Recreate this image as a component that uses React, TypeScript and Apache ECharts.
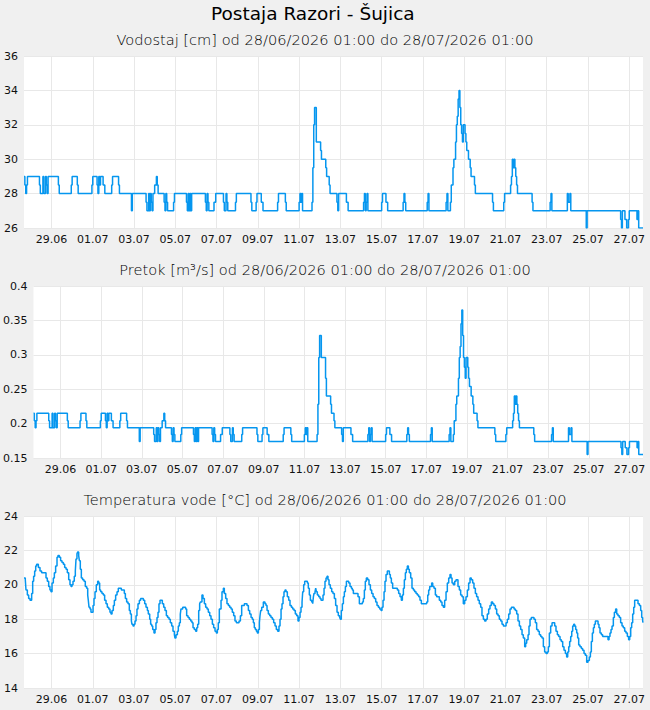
import React, { useEffect, useRef } from "react";
import * as echarts from "echarts";

const FONT = "DejaVu Sans";
const LINE_COLOR = "#0596ef";
const GRID_COLOR = "#e8e8e8";

// Hours since the start of the window; the axis spans 720 h (30 days).
const tickHours = [32, 80, 128, 176, 224, 272, 320, 368, 416, 464, 512, 560, 608, 656, 704];
const tickLabels = [
  "29.06", "01.07", "03.07", "05.07", "07.07", "09.07", "11.07", "13.07",
  "15.07", "17.07", "19.07", "21.07", "23.07", "25.07", "27.07",
];

const mainTitle = "Postaja Razori - Šujica";
const levelTitle = "Vodostaj [cm] od 28/06/2026 01:00 do 28/07/2026 01:00";
const flowTitle = "Pretok [m³/s] od 28/06/2026 01:00 do 28/07/2026 01:00";
const tempTitle = "Temperatura vode [°C] od 28/06/2026 01:00 do 28/07/2026 01:00";

// Hours at which the stage (and hence the discharge) changes value.
const stepHours = [
  0, 1, 2, 3, 4, 18, 19, 22, 23, 25, 26, 27, 28, 40, 41, 55, 56, 62, 63, 79, 80,
  85, 86, 87, 88, 89, 92, 94, 102, 103, 110, 111, 125, 126,
  142, 143, 145, 146, 147, 148, 149, 150, 152, 154, 155, 156,
  163, 164, 165, 166, 167, 174, 175, 189, 190, 191, 192, 193, 194, 195,
  211, 212, 213, 214, 215, 221, 223, 232, 233, 235, 236, 237, 246, 247,
  264, 265, 270, 271, 276, 278, 295, 296, 304, 305, 320, 321, 322, 323, 324,
  335, 336, 337, 338, 340, 345, 346, 351, 352, 355, 356, 364, 365, 366, 375, 377,
  395, 396, 397, 398, 399, 400, 416, 417, 421, 423, 441, 442, 443, 444,
  469, 470, 471, 491, 492, 493,
  496, 497, 499, 500, 502, 503, 504, 505, 506, 507, 508, 509, 510, 511, 513, 514,
  515, 517, 519, 520, 524, 525, 545, 546, 558, 559,
  566, 567, 568, 569, 570, 571, 572, 573, 574, 591, 592, 612, 613, 614,
  632, 633, 635, 636, 654, 655, 694, 695, 696, 699, 701, 703, 704, 713, 714, 715, 720,
];

// Vodostaj [cm]
const levelValues = [
  29, 28.5, 28, 28.5, 29, 28.5, 28, 29, 28, 29, 28.5, 28, 29, 28.5, 28, 28.5, 29, 28.5, 28, 28.5, 29,
  28.5, 28, 29, 28.5, 29, 28.5, 28, 28.5, 29, 28.5, 28, 27, 28,
  27.5, 27, 28, 27, 28, 27.5, 27, 28, 28.5, 29, 28.5, 28,
  27.5, 27, 28, 27.5, 27, 27.5, 28, 27.5, 27, 28, 27, 28, 27, 28,
  27.5, 27, 28, 27.5, 27, 27.5, 28, 27.5, 27, 28, 27.5, 27, 27.5, 28,
  27.5, 27, 27.5, 28, 27.5, 27, 27.5, 28, 27.5, 27, 27.5, 28, 27.5, 28, 27,
  27.5, 29.5, 32, 33, 31, 30.5, 30, 29.5, 29, 28.5, 28, 27.5, 27, 28, 27.5, 27,
  27.5, 28, 27, 27.5, 28, 27, 27.5, 28, 27.5, 27, 27.5, 28, 27.5, 27,
  27.5, 28, 27, 27.5, 28, 27,
  27.5, 28.5, 29.5, 30, 31, 32, 32.5, 33.5, 34, 33, 32, 31.5, 31, 32, 31.5, 31,
  30.5, 30, 29.5, 29, 28.5, 28, 27.5, 27, 27.5, 28,
  28.5, 29, 30, 29.5, 30, 29.5, 29, 28.5, 28, 27.5, 27, 27.5, 28, 27,
  28, 27.5, 28, 27, 26, 27, 26.5, 26, 27, 26.5, 26, 26.5, 27, 26.5, 27, 26, 26,
];

// Pretok [m³/s]
const flowValues = [
  0.215, 0.204, 0.194, 0.204, 0.215, 0.204, 0.194, 0.215, 0.194, 0.215, 0.204, 0.194, 0.215, 0.204, 0.194, 0.204, 0.215, 0.204, 0.194, 0.204, 0.215,
  0.204, 0.194, 0.215, 0.204, 0.215, 0.204, 0.194, 0.204, 0.215, 0.204, 0.194, 0.174, 0.194,
  0.184, 0.174, 0.194, 0.174, 0.194, 0.184, 0.174, 0.194, 0.204, 0.215, 0.204, 0.194,
  0.184, 0.174, 0.194, 0.184, 0.174, 0.184, 0.194, 0.184, 0.174, 0.194, 0.174, 0.194, 0.174, 0.194,
  0.184, 0.174, 0.194, 0.184, 0.174, 0.184, 0.194, 0.184, 0.174, 0.194, 0.184, 0.174, 0.184, 0.194,
  0.184, 0.174, 0.184, 0.194, 0.184, 0.174, 0.184, 0.194, 0.184, 0.174, 0.184, 0.194, 0.184, 0.194, 0.174,
  0.184, 0.228, 0.296, 0.328, 0.296, 0.266, 0.24, 0.228, 0.215, 0.204, 0.194, 0.184, 0.174, 0.194, 0.184, 0.174,
  0.184, 0.194, 0.174, 0.184, 0.194, 0.174, 0.184, 0.194, 0.184, 0.174, 0.184, 0.194, 0.184, 0.174,
  0.184, 0.194, 0.174, 0.184, 0.194, 0.174,
  0.184, 0.204, 0.228, 0.24, 0.266, 0.296, 0.312, 0.345, 0.365, 0.328, 0.296, 0.282, 0.266, 0.296, 0.282, 0.266,
  0.254, 0.24, 0.228, 0.215, 0.204, 0.194, 0.184, 0.174, 0.184, 0.194,
  0.204, 0.215, 0.24, 0.228, 0.24, 0.228, 0.215, 0.204, 0.194, 0.184, 0.174, 0.184, 0.194, 0.174,
  0.194, 0.184, 0.194, 0.174, 0.155, 0.174, 0.165, 0.155, 0.174, 0.165, 0.155, 0.165, 0.174, 0.165, 0.174, 0.155, 0.155,
];

// Temperatura vode [°C]: [hour, value]
const waterTemp: [number, number][] = [
  [0, 20.4], [1.5, 20.3], [2.3, 19.7], [3.9, 19.4], [5.4, 19.2], [7, 19.1], [8.9, 19.5], [10.1, 20.2],
  [11.2, 20.5], [12.4, 20.8], [13.6, 21.1], [14.7, 21.2], [16.7, 21.0], [18.6, 20.8], [20.5, 20.7],
  [22.5, 20.7], [24.4, 20.7], [25.6, 20.4], [27.1, 20.2], [28.7, 19.9], [30.2, 19.7], [31.4, 19.6],
  [32.6, 20.1], [34.1, 20.4], [35.3, 20.7], [36.8, 21.1], [38.4, 21.6], [39.5, 21.7], [41.1, 21.6],
  [42.6, 21.4], [44.2, 21.3], [45.8, 21.2], [47.3, 21.0], [48.9, 20.9], [50.4, 20.7], [52, 20.3],
  [53.5, 20.0], [54.7, 19.9], [55.8, 20.0], [57, 20.2], [58.5, 20.5], [59.7, 20.8], [60.5, 21.5],
  [61.6, 21.8], [62.4, 21.9], [63.6, 21.7], [64.4, 21.4], [65.5, 20.9], [66.7, 20.4], [68.2, 20.3],
  [69.8, 20.2], [71.3, 19.9], [72.9, 19.8], [74.1, 19.4], [74.8, 19.1], [75.6, 18.7], [76.8, 18.6],
  [77.9, 18.4], [79.1, 18.4], [80.3, 18.8], [81.4, 19.2], [82.6, 19.6], [84.1, 20.0], [85.7, 20.2],
  [86.8, 20.1], [88, 19.7], [89.2, 19.6], [90.7, 19.5], [92.3, 19.4], [93.8, 19.1], [95.4, 18.9],
  [96.9, 18.7], [98.5, 18.6], [100, 18.4], [101.2, 18.3], [102.4, 18.5], [103.9, 18.8], [105.1, 19.1],
  [106.6, 19.4], [108.2, 19.6], [109.7, 19.8], [110.9, 19.8], [113.2, 19.7], [115.2, 19.7], [116.7, 19.5],
  [117.9, 19.2], [119.4, 19.0], [121, 18.9], [122.5, 18.5], [123.7, 18.3], [124.9, 17.9], [125.6, 17.7],
  [126.8, 17.6], [128, 17.7], [129.1, 17.9], [130.3, 18.2], [131.4, 18.6], [132.6, 18.9], [134.2, 19.1],
  [135.7, 19.2], [137.3, 19.2], [138.8, 19.1], [140.4, 18.9], [141.9, 18.7], [143.5, 18.5], [144.6, 18.3],
  [146.2, 18.0], [147.3, 17.7], [148.5, 17.6], [149.7, 17.4], [151.2, 17.2], [152.4, 17.4], [153.5, 17.8],
  [154.7, 18.1], [155.9, 18.4], [157, 18.9], [158.2, 19.1], [159.4, 19.1], [160.9, 18.9], [162.5, 18.7],
  [164, 18.5], [165.6, 18.2], [167.1, 18.1], [168.7, 18.0], [170.2, 17.8], [171.8, 17.6], [173.3, 17.3],
  [174.9, 17.1], [175.6, 16.9], [176.8, 17.1], [178.4, 17.3], [179.5, 17.6], [180.7, 17.8], [181.8, 18.3],
  [182.6, 18.6], [184.6, 18.7], [186.5, 18.7], [188, 18.6], [189.2, 18.2], [190.8, 18.1], [192.3, 18.0],
  [193.9, 17.9], [195.4, 17.8], [196.6, 17.5], [198.1, 17.4], [199.7, 17.3], [200.9, 17.5], [202, 17.7],
  [203.2, 18.5], [204.3, 18.9], [205.1, 19.0], [207, 19.4], [208.2, 19.2], [209.8, 18.9], [211.3, 18.7],
  [212.9, 18.6], [214.4, 18.4], [216, 18.2], [217.5, 18.0], [219.1, 17.7], [220.6, 17.5], [222.2, 17.3],
  [223.7, 17.2], [224.9, 17.4], [226, 17.8], [227.2, 18.6], [229.2, 19.1], [230.3, 19.6], [231.9, 19.8],
  [233, 19.5], [234.6, 19.2], [236.1, 18.9], [237.7, 18.8], [239.2, 18.7], [240.8, 18.6], [242.3, 18.4],
  [243.9, 18.2], [245.4, 17.9], [247, 17.8], [248.6, 17.8], [250.1, 17.9], [251.7, 18.2], [253.2, 18.8],
  [254.8, 18.8], [256.3, 18.9], [257.9, 18.9], [259.4, 18.8], [261, 18.5], [262.5, 18.3], [264.1, 18.1],
  [265.6, 18.0], [266.8, 17.8], [267.9, 17.5], [269.1, 17.4], [270.3, 17.3], [271.4, 17.2], [272.6, 17.4],
  [273.8, 17.8], [274.5, 18.2], [275.3, 18.5], [276.5, 18.7], [278.4, 19.0], [280.3, 18.9], [281.5, 18.8],
  [282.7, 18.5], [284.2, 18.3], [285.8, 18.2], [287.3, 18.1], [288.9, 18.0], [290.4, 17.8], [292, 17.6],
  [293.5, 17.4], [295.1, 17.3], [296.6, 17.6], [297.8, 18.0], [299, 18.6], [300.1, 18.9], [301.3, 19.3],
  [302.4, 19.6], [303.6, 19.7], [304.8, 19.6], [306.3, 19.3], [307.9, 19.1], [309.4, 18.8], [311, 18.7],
  [312.5, 18.6], [314.1, 18.5], [315.6, 18.3], [317.2, 18.2], [318.7, 17.9], [319.9, 18.1], [321.1, 18.4],
  [322.2, 18.7], [323.4, 19.0], [324.2, 19.6], [325.3, 20.0], [326.5, 20.2], [328, 20.2], [329.6, 20.1],
  [330.7, 19.8], [331.9, 19.4], [333.1, 19.1], [334.6, 19.0], [335.8, 18.9], [336.6, 19.3], [337.3, 19.5],
  [338.5, 19.6], [339.3, 19.8], [340.1, 19.6], [341.2, 19.4], [342.8, 19.3], [344.3, 19.2], [345.5, 19.1],
  [346.6, 19.1], [347.8, 19.4], [349, 19.8], [350.1, 20.2], [351.3, 20.4], [352.5, 20.5], [353.6, 20.3],
  [354.8, 20.0], [356.3, 19.8], [357.9, 19.6], [359.4, 19.5], [361, 19.2], [362.5, 18.8], [364.1, 18.4],
  [365.6, 18.2], [367.2, 18.1], [368, 18.0], [369.1, 18.5], [370.3, 18.9], [371.5, 19.3], [372.6, 19.6],
  [373.8, 19.9], [375, 20.2], [376.1, 20.2], [377.7, 20.1], [379.2, 19.9], [380.8, 19.8], [381.9, 19.7],
  [383.1, 19.5], [384.6, 19.5], [387, 19.5], [388.5, 19.3], [390.1, 18.9], [391.6, 18.9], [393.6, 19.0],
  [394.7, 19.2], [395.9, 19.7], [397, 20.2], [398.2, 20.4], [399.8, 20.3], [401.3, 20.0], [402.9, 19.7],
  [404.4, 19.5], [406, 19.3], [407.5, 19.2], [409.1, 19.0], [410.6, 18.8], [412.2, 18.7], [413.7, 18.6],
  [415.3, 18.5], [416.4, 18.7], [417.6, 19.1], [418.8, 19.6], [419.9, 20.2], [421.1, 20.6], [422.6, 20.8],
  [423.8, 20.8], [425, 20.6], [426.1, 20.4], [427.3, 20.1], [428.8, 19.8], [430.4, 19.8], [432.3, 19.8],
  [434.3, 19.7], [435.8, 19.5], [437.4, 19.3], [438.9, 19.1], [440.1, 19.4], [441.3, 19.8], [442.4, 20.3],
  [443.6, 20.7], [444.7, 20.9], [445.9, 21.1], [447.1, 20.9], [448.2, 20.7], [449.8, 20.4], [451.3, 19.8],
  [452.9, 19.7], [454.4, 19.6], [456, 19.5], [457.5, 19.4], [459.1, 19.3], [460.6, 19.1], [462.2, 18.9],
  [463.7, 18.9], [465.3, 18.9], [466.8, 18.9], [468.4, 19.0], [469.6, 19.4], [470.7, 19.7], [471.9, 19.9],
  [474.2, 20.1], [475.4, 19.9], [476.9, 19.8], [478.5, 19.4], [480, 19.3], [481.6, 19.3], [483.1, 19.1],
  [484.7, 19.0], [486.2, 18.8], [487.8, 18.7], [489.3, 19.1], [490.9, 19.6], [492.4, 20.1], [494, 20.4],
  [495.5, 20.6], [496.7, 20.4], [497.9, 20.1], [499.4, 20.0], [501, 20.2], [502.5, 20.3], [503.7, 20.3],
  [504.8, 19.9], [506.4, 19.7], [507.9, 19.4], [509.5, 19.3], [511, 18.9], [512.6, 19.1], [514.1, 19.3],
  [515.7, 19.7], [517.2, 20.1], [518.8, 20.4], [520.3, 20.3], [521.9, 20.1], [523.4, 19.8], [525, 19.5],
  [526.5, 19.3], [528.1, 19.1], [529.6, 18.9], [531.2, 18.7], [532.7, 18.2], [534.3, 18.0], [535.8, 17.9],
  [537.4, 18.0], [538.9, 18.3], [540.5, 18.6], [542, 18.8], [543.6, 19.0], [545.2, 18.9], [546.7, 18.8],
  [548.3, 18.6], [549.8, 18.3], [551.4, 18.2], [552.9, 18.0], [554.5, 17.9], [556, 17.7], [557.6, 17.6],
  [559.1, 17.6], [560.7, 17.8], [562.2, 18.0], [563.8, 18.3], [565.3, 18.6], [566.9, 18.7], [568.4, 18.7],
  [570, 18.6], [571.5, 18.5], [573.1, 18.3], [574.6, 17.9], [576.2, 17.6], [577.7, 17.4], [579.3, 17.1],
  [580.8, 16.9], [582.4, 16.4], [583.5, 16.6], [584.7, 16.8], [586.3, 17.1], [587.4, 17.6], [588.6, 18.0],
  [590.1, 18.1], [591.7, 18.1], [593.2, 18.0], [594.8, 17.8], [596.3, 17.4], [597.9, 17.3], [599.4, 17.1],
  [601, 17.0], [602.5, 16.9], [604.1, 16.4], [605.6, 16.1], [607.2, 16.0], [608.7, 16.1], [609.9, 16.4],
  [611.1, 17.2], [612.6, 17.6], [614.2, 17.8], [615.7, 17.8], [617.3, 17.6], [618.8, 17.3], [620.4, 17.1],
  [621.9, 17.0], [623.5, 16.8], [625, 16.7], [626.6, 16.4], [628.1, 16.2], [629.7, 16.0], [631.2, 15.8],
  [632.4, 16.1], [633.6, 16.4], [634.7, 16.7], [635.9, 17.0], [637.1, 17.3], [638.2, 17.6], [639.4, 17.7],
  [640.5, 17.6], [641.7, 17.4], [642.9, 17.2], [644, 16.9], [645.2, 16.5], [646.7, 16.4], [648.3, 16.3],
  [649.8, 16.2], [651.4, 16.0], [652.9, 15.9], [654.5, 15.5], [656, 15.6], [657.6, 15.8], [658.8, 16.1],
  [659.9, 16.7], [661.1, 17.2], [662.3, 17.5], [663.4, 17.7], [664.6, 17.9], [666.1, 17.9], [667.7, 17.7],
  [668.8, 17.5], [670, 17.2], [671.6, 17.1], [673.1, 17.0], [674.7, 17.0], [676.2, 17.0], [677.8, 17.0],
  [679.3, 16.8], [680.5, 17.0], [681.6, 17.2], [682.8, 17.4], [684, 17.6], [685.5, 18.1], [686.7, 18.4],
  [688.2, 18.6], [689.4, 18.3], [690.9, 18.2], [692.5, 18.1], [694, 17.8], [695.6, 17.6], [697.1, 17.5],
  [698.7, 17.3], [700.2, 17.2], [701.8, 17.0], [703.3, 16.8], [704.5, 17.0], [705.7, 17.5], [706.8, 17.8],
  [708, 18.3], [709.2, 18.7], [710.3, 19.1], [711.5, 19.1], [713, 19.1], [714.2, 18.9], [715.8, 18.8],
  [717.3, 18.5], [718.5, 18.1], [719.6, 17.9], [720, 17.8],
];

// Y ranges of the three panels
const levelAxis = { min: 26, max: 36, interval: 2 };
const flowAxis = { min: 0.15, max: 0.4, interval: 0.05 };
const tempAxis = { min: 14, max: 24, interval: 2 };

export default function App() {
  const ref = useRef<HTMLDivElement>(null);

  useEffect(() => {
    document.body.style.margin = "0";
    if (!ref.current) return;
    const chart = echarts.init(ref.current, null, { renderer: "svg" });

    const labelStyle = { fontFamily: FONT, fontSize: 11, color: "#111" };

    const xAxis = (gridIndex: number) => ({
      type: "value",
      gridIndex,
      min: 0,
      max: 720,
      axisLine: { show: false },
      axisTick: { show: false, customValues: tickHours },
      axisLabel: {
        ...labelStyle,
        margin: 6,
        customValues: tickHours,
        formatter: (v: number) => {
          const i = tickHours.indexOf(Math.round(v));
          return i >= 0 ? tickLabels[i] : "";
        },
      },
      splitLine: { show: true, lineStyle: { color: GRID_COLOR, width: 1 } },
    });

    const yAxis = (gridIndex: number, range: { min: number; max: number; interval: number }) => ({
      type: "value",
      gridIndex,
      ...range,
      axisLine: { show: false },
      axisTick: { show: false },
      axisLabel: { ...labelStyle, margin: 6 },
      splitLine: { show: true, lineStyle: { color: GRID_COLOR, width: 1 } },
    });

    const grid = (left: number, top: number) => ({
      left,
      top,
      width: 643 - left,
      height: 172,
      show: true,
      backgroundColor: "#ffffff",
      borderWidth: 0,
      containLabel: false,
    });

    const line = (index: number, data: [number, number][]) => ({
      type: "line",
      xAxisIndex: index,
      yAxisIndex: index,
      data,
      step: "end",
      symbol: "none",
      silent: true,
      lineStyle: { color: LINE_COLOR, width: 1.5 },
    });

    const subtitle = (text: string, top: number) => ({
      text,
      left: "center",
      top,
      padding: 0,
      textStyle: { fontFamily: FONT, fontSize: 14.6, fontWeight: 200, color: "#000" },
    });

    const levelData = stepHours.map((h, i) => [h, levelValues[i]] as [number, number]);
    const flowData = stepHours.map((h, i) => [h, flowValues[i]] as [number, number]);

    chart.setOption({
      animation: false,
      backgroundColor: "#f0f0f0",
      title: [
        {
          text: mainTitle,
          left: 211,
          top: 4,
          padding: 0,
          textStyle: { fontFamily: FONT, fontSize: 18.5, fontWeight: "normal", color: "#000" },
        },
        subtitle(levelTitle, 32),
        subtitle(flowTitle, 262),
        subtitle(tempTitle, 492),
      ],
      grid: [grid(24, 56), grid(33, 286), grid(24, 516)],
      xAxis: [xAxis(0), xAxis(1), xAxis(2)],
      yAxis: [yAxis(0, levelAxis), yAxis(1, flowAxis), yAxis(2, tempAxis)],
      series: [line(0, levelData), line(1, flowData), line(2, waterTemp)],
    });

    return () => chart.dispose();
  }, []);

  return <div ref={ref} style={{ width: 650, height: 710, background: "#f0f0f0" }} />;
}
